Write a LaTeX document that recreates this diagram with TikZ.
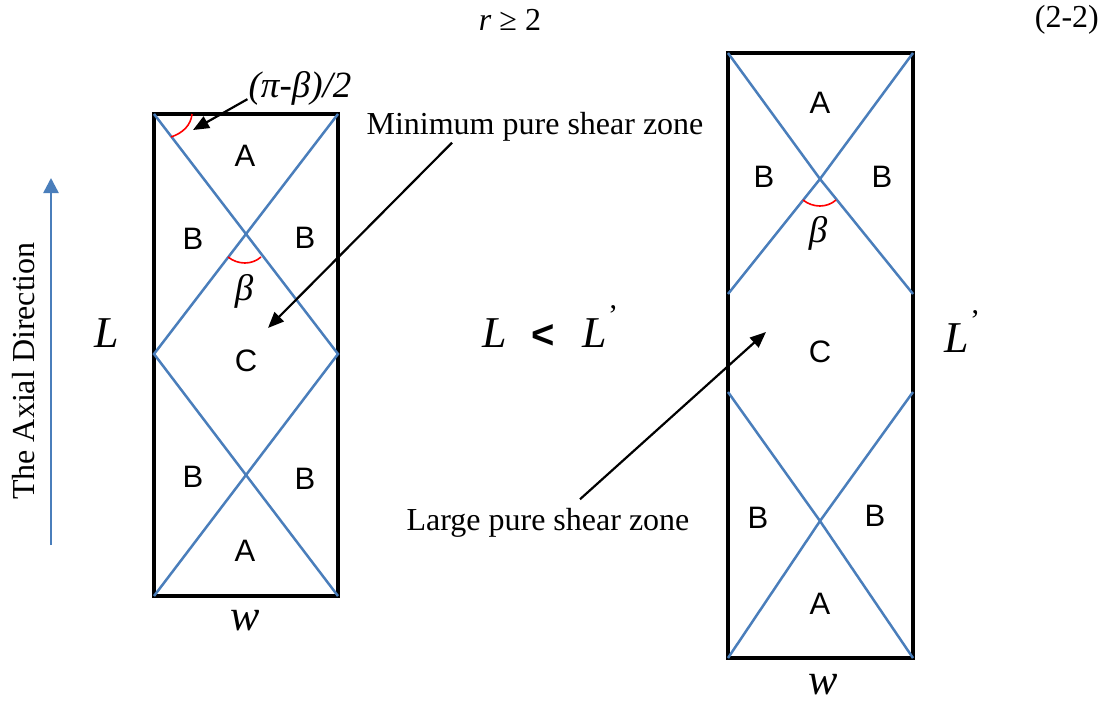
\documentclass[tikz,border=0pt]{standalone}
\usepackage{fontspec}
\setmainfont{Liberation Serif}
\newfontfamily\zonefont{Liberation Sans}
\usetikzlibrary{arrows.meta}
\definecolor{shearblue}{HTML}{4A7EBB}
\tikzset{
  zone/.style={font=\zonefont\fontsize{31}{34}\selectfont,inner sep=0pt},
  body/.style={font=\fontsize{32}{36}\selectfont,inner sep=0pt},
  mathlabel/.style={font=\itshape\fontsize{44}{48}\selectfont,inner sep=0pt},
  betalabel/.style={font=\itshape\fontsize{37}{40}\selectfont,inner sep=0pt},
  primelabel/.style={font=\fontsize{30}{32}\selectfont,inner sep=0pt},
  specimen/.style={line width=4pt},
  shear/.style={draw=shearblue,line width=2.5pt},
  pointer/.style={line width=2.2pt,-{Triangle[length=16pt,width=13pt]}},
  anglearc/.style={red,line width=1.6pt}
}
\begin{document}
\begin{tikzpicture}[x=1pt,y=-1pt]
\useasboundingbox (0,0) rectangle (1110,701);

% left specimen
\coordinate (TL) at (154,114);
\coordinate (TR) at (338,114);
\coordinate (BL) at (154,596);
\coordinate (BR) at (338,596);
\coordinate (ML) at (154,354);
\coordinate (MR) at (338,354);
\draw[specimen] (TL)--(TR)--(BR)--(BL)--cycle;
\draw[shear] (TL)--(MR)--(BL);
\draw[shear] (TR)--(ML)--(BR);

% right specimen
\coordinate (tl) at (728,53);
\coordinate (tr) at (913,53);
\coordinate (bl) at (728,658);
\coordinate (br) at (913,658);
\coordinate (ul) at (728,294);
\coordinate (ur) at (913,294);
\coordinate (ll) at (728,392);
\coordinate (lr) at (913,392);
\coordinate (xup) at (820,179);
\coordinate (xdn) at (820,521);
\draw[specimen] (tl)--(tr)--(br)--(bl)--cycle;
\draw[shear] (tl)--(xup)--(ur);
\draw[shear] (tr)--(xup)--(ul);
\draw[shear] (ll)--(xdn)--(br);
\draw[shear] (lr)--(xdn)--(bl);

% zones
\node[zone] (A1) at (245,156) {A};
\node[zone] (B1) at (193,239) {B};
\node[zone] (B2) at (305,238) {B};
\node[zone] (C1) at (246,361) {C};
\node[zone] (B3) at (193,477) {B};
\node[zone] (B4) at (305,479) {B};
\node[zone] (A2) at (245,551) {A};
\node[zone] (a1) at (820,103) {A};
\node[zone] (b1) at (764,177) {B};
\node[zone] (b2) at (882,177) {B};
\node[zone] (c1) at (820,352) {C};
\node[zone] (b3) at (758,518) {B};
\node[zone] (b4) at (875,516) {B};
\node[zone] (a2) at (820,604) {A};

% angles
\draw[anglearc] (192,114) .. controls (191,125) and (183,133) .. (171,137);
\draw[anglearc] (228,257) .. controls (238,265) and (252,265) .. (261,257);
\draw[anglearc] (803,200) .. controls (813,208) and (827,208) .. (836,200);

% texts
\node[body] (eq) at (510,20) {\textit{r} ≥ 2};
\node[body,anchor=east] (eqno) at (1099,20) {(2-2)};
\node[body] (mini) at (535,127) {Minimum pure shear zone};
\node[body] (large) at (548,523) {Large pure shear zone};
\node[body,rotate=90] (axial) at (24,371) {The Axial Direction};
\node[betalabel] (half) at (300,88) {(π-β)/2};
\node[betalabel] (beta1) at (244,291) {β};
\node[betalabel] (beta2) at (818,233) {β};
\node[mathlabel] (L1) at (107,333) {L};
\node[mathlabel] (L2) at (495,333) {L};
\node[font=\zonefont\bfseries\fontsize{40}{42}\selectfont,inner sep=0pt] (less) at (543,336) {<};
\node[mathlabel] (L3) at (595,333) {L};
\node[primelabel] (prime1) at (613,316) {'};
\node[mathlabel] (L4) at (957,338) {L};
\node[primelabel] (prime2) at (975,321) {'};
\node[mathlabel] (w1) at (245,621) {w};
\node[mathlabel] (w2) at (823,685) {w};

% arrows
\coordinate (halfEnd) at (193,130);
\coordinate (miniEnd) at (268,328);
\coordinate (largeEnd) at (766,332);
\coordinate (axisFoot) at (51,545);
\coordinate (axisHead) at (51,178);
\draw[pointer] (half.south west) ++(-1,-6) -- (halfEnd);
\draw[pointer] (mini.south) ++(-83,1) -- (miniEnd);
\draw[pointer] (large.north) ++(32,-9) -- (largeEnd);
\draw[shearblue,line width=2.5pt,-{Triangle[length=15pt,width=15pt]}] (axisFoot)--(axisHead);
\end{tikzpicture}
\end{document}
